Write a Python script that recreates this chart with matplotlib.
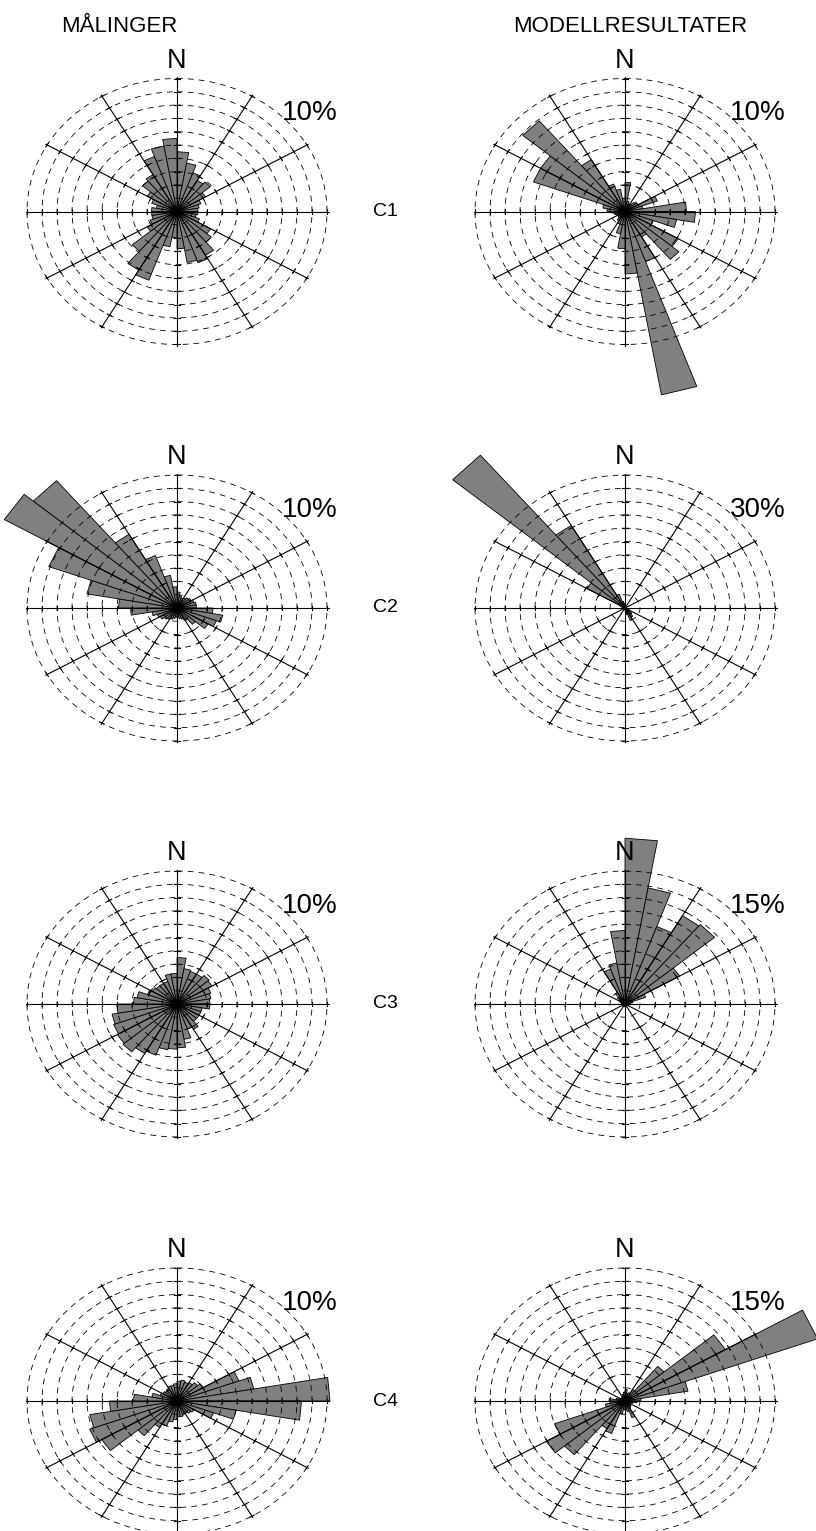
import numpy as np
import matplotlib
matplotlib.use('Agg')
import matplotlib.pyplot as plt

plt.rcParams['font.family'] = ['Liberation Sans', 'DejaVu Sans']

# sektor-midtpunkter (grader fra nord, med klokka)
sectors = np.arange(5, 360, 10)

# C1 målinger, skala 10 %
c1_maal = [4.5, 3.7, 3.1, 2.7, 2.9, 2.2, 1.7, 1.5, 1.4, 1.4, 1.3, 1.6,
           2.6, 3.0, 3.8, 4.1, 3.9, 2.8, 2.0, 2.7, 5.5, 5.1, 3.9, 2.3,
           1.9, 1.7, 1.7, 1.7, 1.4, 1.8, 2.3, 3.0, 3.2, 4.4, 5.0, 5.5]
# C1 modell, skala 10 %
c1_mod = [2.2, 0.8, 0.6, 0.7, 0.9, 1.0, 2.3, 1.2, 4.1, 4.7, 3.5, 2.0,
          4.1, 4.7, 2.2, 4.0, 14.0, 4.7, 2.8, 1.7, 1.0, 0.8, 0.6, 0.5,
          0.6, 0.7, 0.8, 1.2, 1.5, 6.5, 6.5, 8.9, 4.5, 2.2, 1.7, 1.0]
# C2 målinger, skala 10 %
c2_maal = [1.2, 0.9, 0.8, 0.9, 1.0, 1.1, 1.2, 1.3, 1.3, 2.4, 3.1, 2.8,
           2.4, 1.6, 1.1, 0.9, 0.8, 0.7, 0.7, 0.8, 0.9, 1.0, 1.1, 1.3,
           1.4, 1.7, 3.1, 3.9, 6.1, 9.1, 13.3, 12.5, 6.4, 4.2, 2.5, 1.6]
# C2 modell, skala 30 %
c2_mod = [0.6, 0.4, 0.3, 0.3, 0.3, 0.3, 0.3, 0.3, 0.3, 0.4, 0.5, 0.8,
          1.2, 1.8, 2.4, 3.0, 1.5, 0.6, 0.4, 0.3, 0.3, 0.3, 0.3, 0.3,
          0.3, 0.3, 0.3, 0.4, 0.6, 1.0, 8.8, 45.0, 21.5, 3.3, 1.5, 0.9]
# C3 målinger, skala 10 %
c3_maal = [3.5, 2.7, 2.6, 2.6, 2.8, 2.7, 2.4, 2.3, 2.2, 2.2, 1.7, 1.7,
           1.7, 1.7, 2.2, 2.0, 2.7, 3.3, 3.4, 3.5, 4.1, 4.3, 4.7, 4.6,
           4.5, 4.4, 4.0, 2.9, 2.7, 2.1, 1.9, 1.8, 1.8, 1.8, 2.3, 2.3]
# C3 modell, skala 15 %
c3_mod = [18.7, 13.3, 9.3, 11.5, 11.7, 6.3, 2.2, 0.8, 0.5, 0.4, 0.4, 0.3,
          0.3, 0.3, 0.3, 0.3, 0.3, 0.3, 0.3, 0.3, 0.3, 0.3, 0.3, 0.3,
          0.3, 0.3, 0.3, 0.3, 0.4, 0.5, 0.7, 1.0, 1.5, 4.2, 4.7, 8.3]
# C4 målinger, skala 10 %
c4_maal = [1.5, 1.6, 1.5, 1.6, 1.8, 2.0, 4.4, 5.2, 10.2, 8.3, 4.0, 2.6,
           1.3, 1.2, 1.1, 1.1, 1.2, 1.2, 1.4, 1.6, 2.0, 2.3, 3.4, 5.8,
           6.2, 5.9, 4.5, 2.9, 1.7, 1.2, 1.1, 1.0, 1.1, 1.2, 1.2, 1.3]
# C4 modell, skala 15 %
c4_mod = [1.3, 0.9, 1.0, 1.5, 5.1, 11.6, 20.5, 6.4, 1.6, 1.2, 0.8, 0.6,
          0.6, 0.8, 0.9, 2.0, 1.2, 0.9, 1.0, 1.5, 3.9, 3.6, 7.9, 9.1,
          7.5, 2.0, 1.5, 1.6, 0.9, 0.6, 0.5, 0.5, 0.5, 0.6, 0.8, 1.0]

roses = [[c1_maal, c1_mod], [c2_maal, c2_mod], [c3_maal, c3_mod], [c4_maal, c4_mod]]
scales = [[10, 10], [10, 30], [10, 15], [10, 15]]
row_labels = ['C1', 'C2', 'C3', 'C4']
col_titles = ['MÅLINGER', 'MODELLRESULTATER']

W, H = 816, 1531
fig = plt.figure(figsize=(W / 100, H / 100), dpi=100)

col_x = [177, 625]
row_y = [211.5, 608, 1004, 1401]
rx, ry = 150, 133  # pixel-radius for ytterste ring

def draw_rose(ax, values, scale):
    ax.set_theta_zero_location('N')
    ax.set_theta_direction(-1)
    ax.set_ylim(0, scale)
    ax.set_axis_off()
    ax.set_aspect('auto')
    step = scale / 10
    width = np.deg2rad(10)
    for c, v in zip(sectors, values):
        t = np.deg2rad(c)
        ax.fill([t - width / 2, t - width / 2, t + width / 2, t + width / 2],
                [0, v, v, 0], facecolor='#808080', edgecolor='black',
                linewidth=0.6, clip_on=False, zorder=2)
    th = np.linspace(0, 2 * np.pi, 721)
    for k in range(1, 11):
        ax.plot(th, np.full_like(th, k * step), color='black', lw=0.6,
                dashes=(7, 6), clip_on=False, zorder=3)
    for a in range(0, 360, 30):
        t = np.deg2rad(a)
        ax.plot([t, t], [0, scale * 1.01], color='black', lw=0.8,
                clip_on=False, zorder=3)
        for k in range(2, 11):
            r = k * step
            d = 0.17 / k
            ax.plot([t - d, t + d], [r, r], color='black', lw=0.8,
                    clip_on=False, zorder=3)

for i in range(4):
    for j in range(2):
        cx, cy = col_x[j], row_y[i]
        ax = fig.add_axes([(cx - rx) / W, 1 - (cy + ry) / H, 2 * rx / W, 2 * ry / H],
                          projection='polar')
        draw_rose(ax, roses[i][j], scales[i][j])
        fig.text(cx / W, 1 - (cy - 151) / H, 'N', ha='center', va='center', fontsize=19.5)
        fig.text((cx + 133) / W, 1 - (cy - 98) / H, '%d%%' % scales[i][j],
                 ha='center', va='center', fontsize=20)
    fig.text(385 / W, 1 - row_y[i] / H, row_labels[i], ha='center', va='center', fontsize=14)

fig.text(119 / W, 1 - 26 / H, col_titles[0], ha='center', va='center', fontsize=16)
fig.text(630 / W, 1 - 26 / H, col_titles[1], ha='center', va='center', fontsize=16)

fig.savefig('out.png', dpi=100, facecolor='white')
